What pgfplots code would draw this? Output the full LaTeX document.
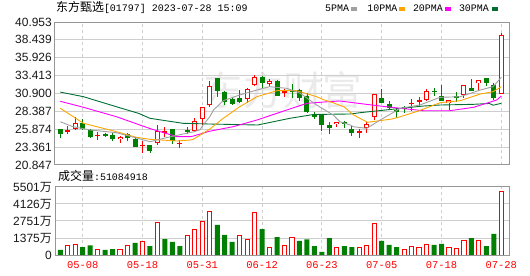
\documentclass[border=0pt]{standalone}
\usepackage{pgfplots}
\pgfplotsset{compat=1.18}
\usepackage{pgfplotstable}
\usepackage{fontspec}
\setmainfont{Liberation Sans}
\newfontfamily\cjk{Noto Sans CJK SC}
\newfontfamily\mono{Liberation Mono}
\definecolor{kred}{RGB}{255,0,0}
\definecolor{kgreen}{RGB}{0,128,0}
\definecolor{ma5}{RGB}{160,160,160}
\definecolor{ma10}{RGB}{255,165,0}
\definecolor{ma20}{RGB}{255,0,255}
\definecolor{ma30}{RGB}{0,110,50}
\definecolor{gridc}{RGB}{206,206,206}
\definecolor{framec}{RGB}{150,150,150}
\definecolor{wm}{RGB}{234,234,234}
\newcommand\wan{{\cjk 万}}

\pgfplotstableread{
i O H L C
1 25.60 26.37 25.21 25.67
2 25.87 27.64 25.80 26.71
5 25.00 25.54 24.36 25.07
8 24.50 24.90 23.90 24.84
11 23.62 24.18 22.58 23.66
13 23.90 26.43 23.66 25.63
14 25.50 26.24 24.74 25.56
16 23.86 24.36 23.20 23.90
18 25.63 27.40 25.50 27.03
19 27.31 29.04 26.47 29.04
20 29.28 32.70 29.04 31.95
25 30.08 31.63 29.52 31.49
26 32.10 33.50 32.00 33.18
28 32.24 32.90 31.77 32.70
30 31.10 31.49 30.45 31.15
37 26.60 26.95 26.24 26.93
40 25.50 25.87 24.70 25.55
41 26.00 26.93 25.30 26.56
42 27.64 30.80 27.17 30.79
47 29.48 30.08 28.48 29.54
48 29.82 30.41 29.14 29.88
49 29.94 31.58 29.90 31.25
52 29.57 29.94 28.62 29.94
54 30.73 32.05 30.27 32.05
56 32.38 32.80 31.25 32.75
59 30.87 39.41 30.80 39.08
}\redK

\pgfplotstableread{
i O H L C
0 25.86 25.95 24.60 25.24
3 26.79 27.27 25.80 25.87
4 25.72 25.87 24.70 24.74
6 25.10 25.40 24.74 25.05
7 25.07 25.40 24.18 24.46
9 25.17 25.30 24.18 24.70
10 24.50 24.84 23.35 23.40
12 23.66 23.70 22.58 22.86
15 25.87 25.90 23.80 24.18
17 25.70 26.24 25.20 25.67
21 33.04 33.10 30.45 31.30
22 31.15 31.30 29.28 29.75
23 30.08 30.45 29.30 29.38
24 30.31 31.39 29.52 29.75
27 33.27 33.40 31.63 32.42
29 32.66 32.80 30.55 30.55
31 31.22 32.24 30.20 31.16
32 31.39 31.50 29.90 30.20
33 30.55 30.90 28.10 28.34
34 27.82 28.34 27.27 27.76
35 27.88 27.90 25.63 26.47
36 26.47 26.93 25.20 26.10
38 26.93 27.03 26.00 26.56
39 25.91 26.33 24.93 25.40
43 30.22 31.49 29.52 29.52
44 29.38 29.89 28.58 28.90
45 28.52 28.82 27.41 28.45
46 28.96 29.19 28.10 28.72
50 31.24 31.72 30.55 31.18
51 30.55 32.14 29.85 29.85
53 30.44 31.11 29.71 30.38
55 31.67 32.90 31.30 31.30
57 33.08 33.10 32.00 32.38
58 32.14 32.42 29.94 30.27
}\greenK

\pgfplotstableread{
i v
1 785
2 863
5 458
8 485
9 785
11 1052
13 2645
17 1591
18 2077
19 2724
20 3533
24 1591
25 1267
26 3452
28 620
30 785
31 1430
37 620
40 620
41 785
42 2562
46 458
47 701
48 620
49 863
52 620
53 539
54 1133
56 1213
59 5108
}\redV

\pgfplotstableread{
i v
0 405
3 647
4 785
6 405
7 485
10 971
12 728
14 1294
15 1052
16 728
21 2427
22 1618
23 1052
27 2103
29 1456
32 1133
33 1267
34 728
35 243
36 1375
38 728
39 647
43 1133
44 809
45 647
50 809
51 890
55 1375
57 728
58 1699
}\greenV

\pgfplotsset{
  candle/.style n args={2}{draw=none, mark=none, error bars/.cd, y dir=both, y explicit, error mark=none,
    error bar style={draw=#1, line width=#2, line cap=butt}},
}

\begin{document}
\begin{tikzpicture}
\useasboundingbox (0,0) rectangle (530bp,276bp);
% watermark
\node[text=wm, font=\cjk\fontsize{40}{40}\selectfont, inner sep=0pt] at (283bp,186bp) {东方财富};
% header
\node[anchor=base west, inner sep=0pt] at (56bp,264bp) {\cjk\fontsize{12}{12}\selectfont 东方甄选\mono\fontsize{10}{10}\selectfont [01797] 2023-07-28 15:09};
\node[anchor=base west, inner sep=0pt] at (325bp,264bp) {\mono\fontsize{10}{10}\selectfont 5PMA};
\fill[ma5] (351.4bp,265.2bp) rectangle (357.4bp,269bp);
\node[anchor=base west, inner sep=0pt] at (367.2bp,264bp) {\mono\fontsize{10}{10}\selectfont 10PMA};
\fill[ma10] (399bp,265.2bp) rectangle (405bp,269bp);
\node[anchor=base west, inner sep=0pt] at (412.8bp,264bp) {\mono\fontsize{10}{10}\selectfont 20PMA};
\fill[ma20] (445bp,265.2bp) rectangle (451bp,269bp);
\node[anchor=base west, inner sep=0pt] at (458.8bp,264bp) {\mono\fontsize{10}{10}\selectfont 30PMA};
\fill[ma30] (491.6bp,265.2bp) rectangle (497.6bp,269bp);
\node[anchor=base west, inner sep=0pt] at (58bp,95bp) {\cjk\fontsize{12}{12}\selectfont 成交量\mono\fontsize{10}{10}\selectfont :51084918};

\begin{axis}[
  at={(55bp,111bp)}, anchor=south west, scale only axis,
  width=454bp, height=143bp,
  xmin=-0.709, xmax=60.03, ymin=20.847, ymax=40.953,
  axis line style={framec, line width=1bp},
  xtick={3,11,19,27,35,43,51,59}, xticklabels={},
  ytick={20.847,23.361,25.874,28.387,30.900,33.413,35.926,38.439,40.953},
  yticklabels={20.847,23.361,25.874,28.387,30.900,33.413,35.926,38.439,40.953},
  major tick length=0pt, tick style={draw=none},
  xmajorgrids, ymajorgrids,
  x grid style={gridc, line width=0.9bp, dash pattern=on 3bp off 3bp},
  y grid style={gridc, line width=1bp},
  yticklabel style={font=\fontsize{12}{12}\selectfont, anchor=east, inner sep=0pt, xshift=-3bp, text=black!90},
]
% wicks
\addplot [candle={kred}{0.9bp}]
  table [x=i, y expr={(\thisrow{H}+\thisrow{L})/2}, y error expr={(\thisrow{H}-\thisrow{L})/2}] {\redK};
\addplot [candle={kgreen}{0.9bp}]
  table [x=i, y expr={(\thisrow{H}+\thisrow{L})/2}, y error expr={(\thisrow{H}-\thisrow{L})/2}] {\greenK};
% bodies
\addplot [candle={kred}{5bp}]
  table [x=i, y expr={(\thisrow{O}+\thisrow{C})/2}, y error expr={max(abs(\thisrow{C}-\thisrow{O})/2,0.075)}] {\redK};
\addplot [candle={white}{3bp}]
  table [x=i, y expr={(\thisrow{O}+\thisrow{C})/2}, y error expr={max(abs(\thisrow{C}-\thisrow{O})/2-0.14,0)}] {\redK};
\addplot [candle={kgreen}{5bp}]
  table [x=i, y expr={(\thisrow{O}+\thisrow{C})/2}, y error expr={max(abs(\thisrow{C}-\thisrow{O})/2,0.075)}] {\greenK};
% moving averages
\addplot [ma30, line width=0.9bp, mark=none] coordinates {
(0,31.1)(3.1,30.45)(7.5,29.04)(10.5,28.1)(12,27.41)(16.4,26.71)(20,26.61)(26.4,26.47)(30.7,27.41)(33.9,27.95)(38.8,28.02)(40.1,28.2)(42.8,28.5)(46.3,28.9)(48.6,29.14)(50.8,29.28)(55.3,29.38)(57.4,29.5)(57.9,29.25)(59,29.52)};
\addplot [ma20, line width=0.9bp, mark=none] coordinates {
(0,29.8)(3.1,28.96)(7.5,27.64)(12,25.97)(15.6,24.83)(17.4,24.83)(17.8,24.92)(20,25.6)(23.1,26.23)(26.3,27.17)(30.7,28.72)(33,29.52)(35.2,29.7)(37.4,29.85)(40,29.5)(42.8,29.14)(45.5,28.82)(48.6,28.48)(52.1,28.48)(55.3,28.96)(57,29.52)(58.4,29.99)(59,30.55)};
\addplot [ma10, line width=0.9bp, mark=none] coordinates {
(0,28.82)(3.1,26.71)(7.5,25.53)(10.2,24.74)(12,24.46)(15.6,24.22)(17.4,24.36)(17.8,24.46)(20,25.9)(21.8,27.41)(24,29.04)(26.3,30.45)(29,31.3)(31.6,31.3)(34.3,30.45)(35.3,30.0)(36.5,29.6)(38,29.0)(39.2,27.9)(41.1,26.85)(44.3,27.3)(45.5,27.64)(47.8,28.4)(50.8,29.6)(53.5,29.89)(56.2,30.83)(57.9,31.15)(59,31.86)};
\addplot [ma5, line width=0.9bp, mark=none] coordinates {
(0,26.93)(1.7,26.23)(4,25.77)(7.5,25.39)(10,24.7)(12,24.12)(14.2,24.69)(16.4,25.2)(17.8,25.5)(18.7,25.8)(19.1,26.47)(20,27.64)(20.5,28.58)(21.8,29.89)(24,30.69)(26.3,31.39)(28,31.86)(30.3,31.63)(32.1,30.93)(34.3,29.28)(36.5,27.88)(37.4,26.93)(38.8,26.47)(39.2,26.23)(41,26.0)(42.8,27.17)(45.5,28.82)(48.1,29.28)(50.8,30.36)(53.5,30.45)(56.2,31.39)(57.9,31.86)(59,33.18)};
\end{axis}

\begin{axis}[
  at={(55bp,21bp)}, anchor=south west, scale only axis,
  width=454bp, height=68bp,
  xmin=-0.709, xmax=60.03, ymin=0, ymax=5501,
  axis line style={framec, line width=1bp},
  xtick={3,11,19,27,35,43,51,59},
  xticklabels={05-08,05-18,05-31,06-12,06-23,07-05,07-18,07-28},
  ytick={0,1375,2751,4126,5501},
  yticklabels={0,1375\wan,2751\wan,4126\wan,5501\wan},
  major tick length=0pt, tick style={draw=none},
  xmajorgrids, ymajorgrids,
  x grid style={gridc, line width=0.9bp, dash pattern=on 3bp off 3bp},
  y grid style={gridc, line width=1bp},
  yticklabel style={font=\fontsize{12}{12}\selectfont, anchor=east, inner sep=0pt, xshift=-3bp, text=black!90},
  xticklabel style={font=\mono\fontsize{10.5}{10.5}\selectfont, text=kred, inner sep=0pt, yshift=-6.5bp},
  scaled y ticks=false,
]
\addplot [ybar, bar width=4.2bp, bar shift=0pt, fill=white, draw=kred, line width=1bp] table [x=i, y=v] {\redV};
\addplot [ybar, bar width=5bp, bar shift=0pt, fill=kgreen, draw=none] table [x=i, y=v] {\greenV};
\end{axis}
\end{tikzpicture}
\end{document}
